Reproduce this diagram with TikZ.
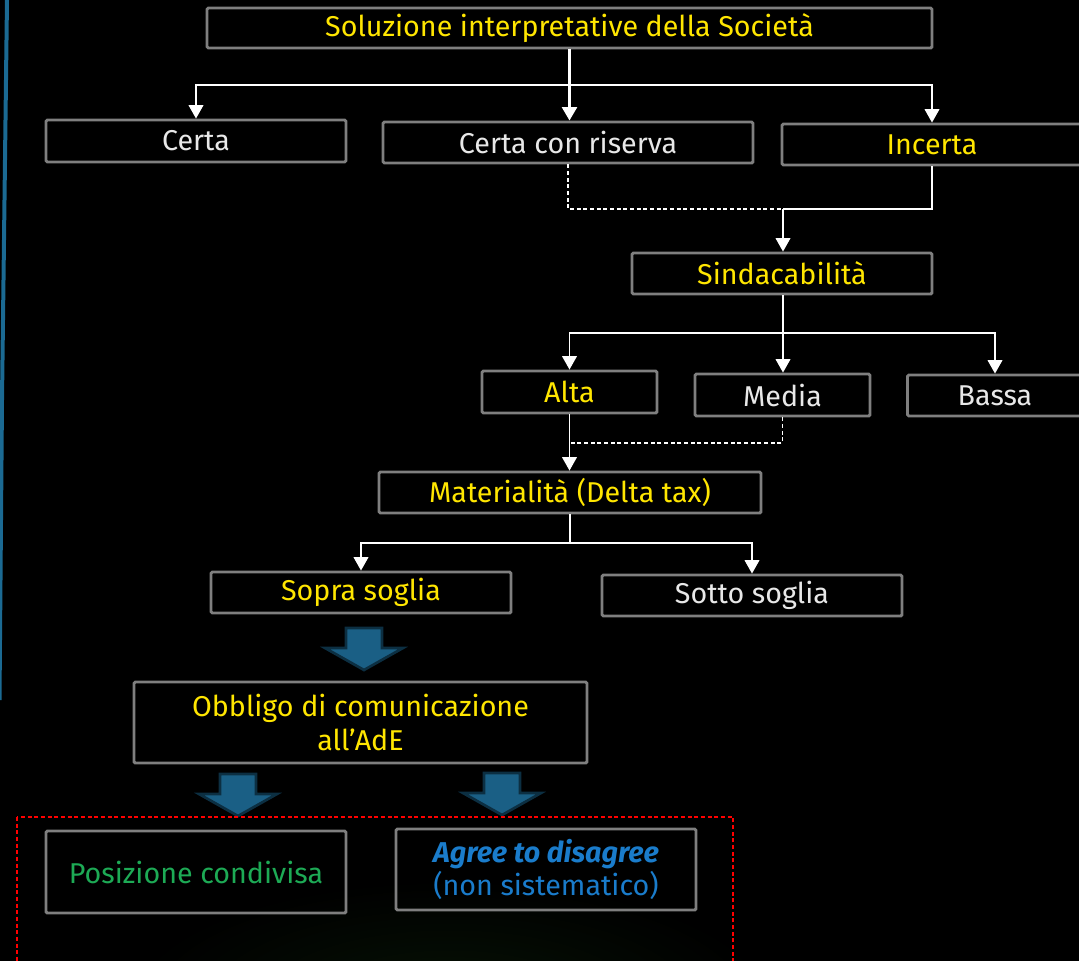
\documentclass[tikz,border=0pt]{standalone}
\usepackage{fontspec}
\setmainfont{Fira Sans}
\usetikzlibrary{arrows.meta}
\definecolor{eyyellow}{HTML}{FFE600}
\definecolor{txtwhite}{HTML}{E8E8E8}
\definecolor{boxgray}{HTML}{7F7F7F}
\definecolor{txtgreen}{HTML}{1DAA55}
\definecolor{txtblue}{HTML}{1A7CCB}
\definecolor{arrowblue}{HTML}{1A5F85}
\definecolor{arrowdark}{HTML}{0C2F42}
\definecolor{sidebar}{HTML}{1B6A93}
\definecolor{glow}{HTML}{061205}
\tikzset{
  bx/.style={draw=boxgray, line width=2.2pt, inner sep=0pt, rounded corners=1pt,
    font=\fontsize{21.5}{25}\selectfont, align=center},
  bw/.style={minimum width=#1*0.75pt},
  bh/.style={minimum height=#1*0.75pt},
  conn/.style={draw=white, line width=1pt, -{Triangle[width=11pt,length=10pt]}},
  plain/.style={draw=white, line width=1pt},
  thickconn/.style={draw=white, line width=2.2pt, -{Triangle[width=11pt,length=10pt]}},
  dsh/.style={draw=white, line width=1pt, dash pattern=on 3pt off 2pt},
  barrow/.style={fill=arrowblue, draw=arrowdark, line width=2pt, line join=miter},
  blockarrow/.pic={\draw[barrow] (-18,0) -- (18,0) -- (18,20) -- (39,20) -- (0,42) -- (-39,20) -- (-18,20) -- cycle;}
}
\begin{document}
\begin{tikzpicture}[x=0.75pt,y=-0.75pt]
\useasboundingbox (0,0) rectangle (1079,961);
\clip (0,0) rectangle (1079,961);
\fill[black] (0,0) rectangle (1079,961);
\shade[inner color=glow, outer color=black] (450,1000) ellipse (320 and 120);
% side bar
\fill[sidebar] (5,0) -- (9,0) -- (4,400) -- (1.5,700) -- (0,700) -- (0,400) -- cycle;

% nodes
\node[bx, bw=725, bh=40, text=eyyellow] (top) at (569.5,28) {Soluzione interpretative della Società};
\node[bx, bw=300, bh=42, text=txtwhite] (certa) at (196,141) {Certa};
\node[bx, bw=370, bh=41, text=txtwhite] (ccr) at (568,142.5) {Certa con riserva};
\node[bx, bw=300, bh=41, text=eyyellow] (incerta) at (932,144.5) {Incerta};
\node[bx, bw=300, bh=41, text=eyyellow] (sind) at (782,273.5) {Sindacabilità};
\node[bx, bw=175, bh=42, text=eyyellow] (alta) at (569.5,392) {Alta};
\node[bx, bw=175, bh=42, text=txtwhite] (media) at (782.5,395) {Media};
\node[bx, bw=175, bh=41, text=txtwhite] (bassa) at (995,395.5) {Bassa};
\node[bx, bw=382, bh=41, text=eyyellow] (mat) at (570,492.5) {Materialità (Delta tax)};
\node[bx, bw=300, bh=41, text=eyyellow] (sopra) at (361,592.5) {Sopra soglia};
\node[bx, bw=300, bh=41, text=txtwhite] (sotto) at (752,595.5) {Sotto soglia};
\node[bx, bw=453, bh=81, text=eyyellow] (obb) at (360.5,722.5) {Obbligo di comunicazione\\all’AdE};
\node[bx, bw=300, bh=82, text=txtgreen] (pos) at (196,872) {Posizione condivisa};
\node[bx, bw=300, bh=81, text=txtblue] (agree) at (546,869.5) {{\bfseries\itshape Agree to disagree}\\(non sistematico)};

% junctions
\coordinate (j1) at (570,85);
\coordinate (j2) at (783,209);
\coordinate (j3) at (783,333);
\coordinate (j4) at (570,443);
\coordinate (j5) at (570,543);

% connectors
\draw[thickconn] (top.south) -- (top.south |- ccr.north);
\draw[conn] (j1) -| (certa.north);
\draw[conn] (j1) -| (incerta.north);
\draw[dsh] (ccr.south) |- (j2);
\draw[plain] (incerta.south) |- (j2);
\draw[conn] (j2) -- (j2 |- sind.north);
\draw[plain] (sind.south -| j3) -- (j3);
\draw[conn] (j3) -| (alta.north);
\draw[conn] (j3) -- (j3 |- media.north);
\draw[conn] (j3) -| (bassa.north);
\draw[dsh] (media.south) |- (j4);
\draw[conn] (alta.south) -- (alta.south |- mat.north);
\draw[plain] (mat.south -| j5) -- (j5);
\draw[conn] (j5) -| (sopra.north);
\draw[conn] (j5) -| (sotto.north);

% block arrows
\pic at (364,628) {blockarrow};
\pic at (238,774) {blockarrow};
\pic at (502,773) {blockarrow};

% red dashed frame
\draw[red, line width=0.9pt, dash pattern=on 3pt off 2pt] (17,817) rectangle (733,975);
\end{tikzpicture}
\end{document}
